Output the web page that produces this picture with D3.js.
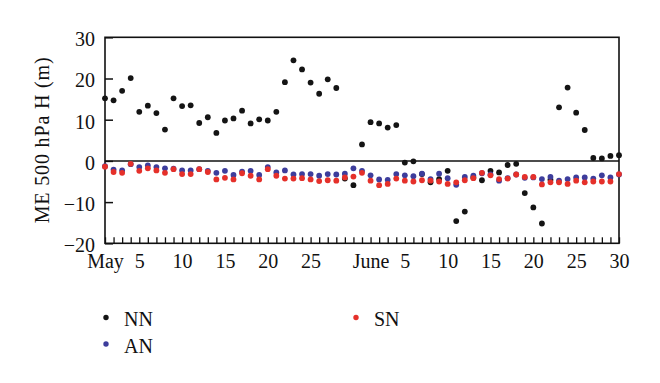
<!DOCTYPE html>
<html>
<head>
<meta charset="utf-8">
<script src="https://cdn.jsdelivr.net/npm/d3@7"></script>
<style>
  html, body { margin: 0; padding: 0; background: #fff; }
  svg text { font-family: "Liberation Serif", "Times New Roman", serif !important; }
</style>
</head>
<body>
<svg id="chart" width="660" height="383"></svg>
<script>
const days = [
  "May 1","May 2","May 3","May 4","May 5","May 6","May 7","May 8","May 9","May 10",
  "May 11","May 12","May 13","May 14","May 15","May 16","May 17","May 18","May 19","May 20",
  "May 21","May 22","May 23","May 24","May 25","May 26","May 27","May 28","May 29","May 30","May 31",
  "June 1","June 2","June 3","June 4","June 5","June 6","June 7","June 8","June 9","June 10",
  "June 11","June 12","June 13","June 14","June 15","June 16","June 17","June 18","June 19","June 20",
  "June 21","June 22","June 23","June 24","June 25","June 26","June 27","June 28","June 29","June 30"
];
const dayLabels = [
  "May","","","","5","","","","","10",
  "","","","","15","","","","","20",
  "","","","","25","","","","","","",
  "June","","","","5","","","","","10",
  "","","","","15","","","","","20",
  "","","","","25","","","","","30"
];
const yTicks = [-20, -10, 0, 10, 20, 30];

const NN = [
  15.2, 14.7, 17.0, 20.1, 11.9, 13.4, 11.6, 7.6, 15.2, 13.3,
  13.5, 9.2, 10.6, 6.8, 9.8, 10.3, 12.2, 9.1, 10.1, 9.8,
  11.9, 19.1, 24.4, 22.2, 19.0, 16.3, 19.8, 17.7, -4.3, -5.9, 4.0,
  9.4, 9.1, 8.1, 8.7, -0.4, -0.1, -3.2, -5.2, -4.4, -2.4,
  -14.6, -12.3, -4.0, -4.7, -2.4, -2.8, -1.0, -0.7, -7.8, -11.3,
  -15.2, -4.6, 13.0, 17.8, 11.7, 7.5, 0.7, 0.6, 1.2, 1.4
];
const AN = [
  -1.3, -2.1, -2.3, -0.8, -1.5, -1.1, -1.5, -1.8, -1.9, -2.3,
  -2.3, -2.0, -2.4, -2.9, -2.4, -3.4, -2.6, -2.4, -3.4, -1.5,
  -2.8, -2.3, -3.3, -3.2, -3.2, -3.6, -3.2, -3.3, -3.1, -1.8, -2.4,
  -3.5, -4.5, -4.6, -3.2, -3.5, -3.7, -3.1, -4.4, -3.1, -4.2,
  -5.8, -3.9, -3.6, -3.0, -3.3, -4.8, -4.2, -3.3, -4.1, -4.0,
  -4.4, -3.9, -4.8, -4.4, -4.0, -4.0, -4.3, -3.5, -4.0, -3.3
];
const SN = [
  -1.4, -2.7, -2.9, -0.7, -2.4, -1.8, -2.3, -2.9, -2.0, -3.2,
  -3.2, -2.0, -2.7, -4.5, -4.1, -4.5, -3.0, -3.6, -4.5, -2.0,
  -3.6, -4.3, -4.3, -4.2, -4.5, -4.9, -4.7, -4.8, -4.0, -3.8, -2.9,
  -4.8, -5.9, -5.6, -4.3, -4.8, -5.0, -4.7, -4.8, -5.0, -5.6,
  -5.2, -4.7, -4.2, -2.9, -3.5, -4.4, -4.3, -3.3, -3.9, -3.9,
  -5.7, -5.2, -5.2, -5.6, -4.8, -5.2, -5.0, -5.0, -5.0, -3.2
];
const seriesNames = ["NN", "AN", "SN"];
const seriesColors = ["#141414", "#3d3d9c", "#e5302a"];
const seriesValues = [NN, AN, SN];

const svg = d3.select("#chart");
const plotLeft = 105, plotRight = 619, plotTop = 37.3, plotBottom = 243.3;

const x = d3.scalePoint().domain(days).range([plotLeft, plotRight]);
const y = d3.scaleLinear().domain([-20, 30]).range([plotBottom, plotTop]);
const labelOf = new Map(days.map((d, i) => [d, dayLabels[i]]));

const fontSize = 20;

// x axis (inward ticks every day)
const gx = svg.append("g")
  .attr("transform", `translate(0,${plotBottom})`)
  .call(d3.axisBottom(x).tickSize(-6).tickPadding(10.5).tickFormat(d => labelOf.get(d)));
gx.select(".domain").remove();
gx.attr("font-family", null).attr("font-size", null);
gx.selectAll("line").attr("stroke", "#111").attr("stroke-width", 1.3);
gx.selectAll("text").attr("font-size", fontSize).attr("fill", "#111");

// y axis (inward ticks)
const gy = svg.append("g")
  .attr("transform", `translate(${plotLeft},0)`)
  .call(d3.axisLeft(y).tickValues(yTicks).tickSize(-8).tickPadding(10).tickFormat(d3.format("d")));
gy.select(".domain").remove();
gy.attr("font-family", null).attr("font-size", null);
gy.selectAll("line").attr("stroke", "#111").attr("stroke-width", 1.5);
gy.selectAll("text").attr("font-size", fontSize).attr("fill", "#111").attr("dy", "0.42em");

// frame
svg.append("rect")
  .attr("x", plotLeft).attr("y", plotTop)
  .attr("width", plotRight - plotLeft).attr("height", plotBottom - plotTop)
  .attr("fill", "none").attr("stroke", "#111").attr("stroke-width", 1.6);

// zero line
svg.append("line")
  .attr("x1", plotLeft).attr("x2", plotRight)
  .attr("y1", y(0)).attr("y2", y(0))
  .attr("stroke", "#111").attr("stroke-width", 1.5);

// y title
svg.append("text")
  .attr("transform", `translate(49,${(plotTop + plotBottom) / 2}) rotate(-90)`)
  .attr("text-anchor", "middle")
  .attr("font-size", fontSize)
  .attr("fill", "#111")
  .attr("textLength", 166)
  .attr("lengthAdjust", "spacing")
  .text("ME 500 hPa H (m)");

// points
seriesValues.forEach((vals, si) => {
  svg.append("g").selectAll("circle")
    .data(vals)
    .join("circle")
    .attr("cx", (d, i) => x(days[i]))
    .attr("cy", d => y(d))
    .attr("r", 2.9)
    .attr("fill", seriesColors[si]);
});

// legend
const legendPos = [[106, 317.5], [106, 344], [356, 317.5]];
seriesNames.forEach((name, i) => {
  const [lx, ly] = legendPos[i];
  svg.append("circle").attr("cx", lx).attr("cy", ly).attr("r", 2.7).attr("fill", seriesColors[i]);
  svg.append("text").attr("x", lx + 18).attr("y", ly + 8.5)
    .attr("font-size", fontSize).attr("fill", "#111").text(name);
});
</script>
</body>
</html>
